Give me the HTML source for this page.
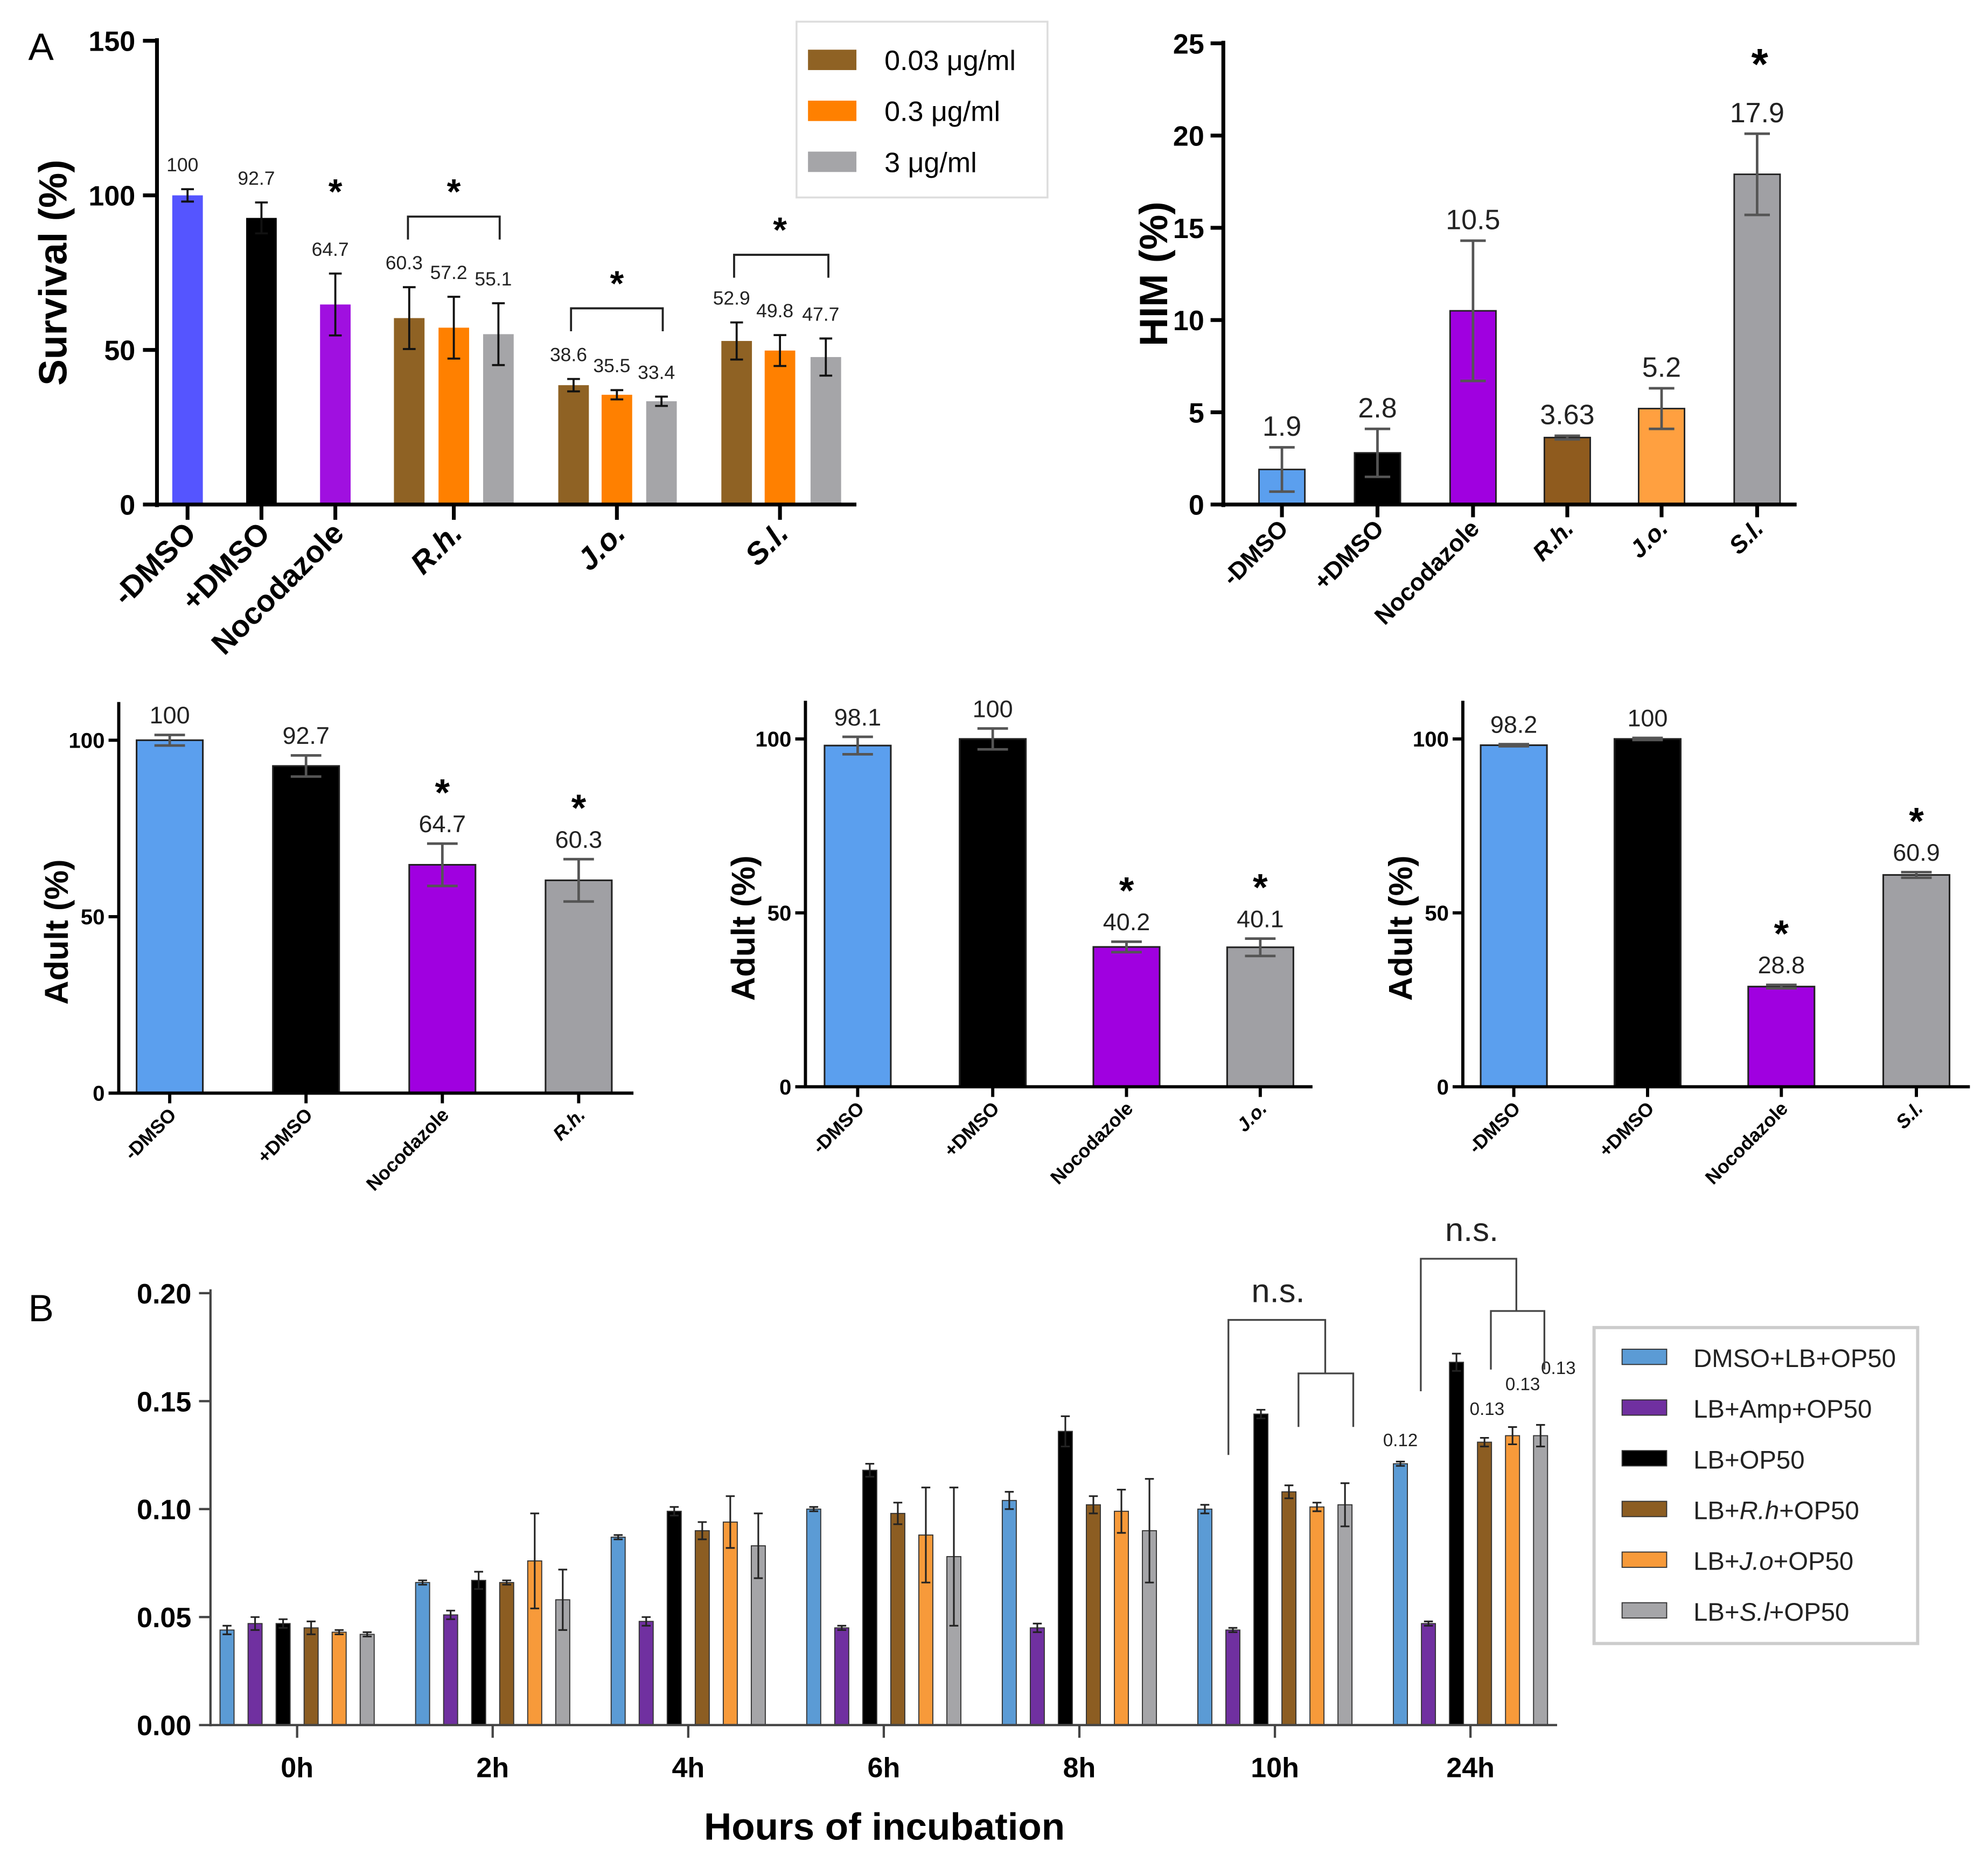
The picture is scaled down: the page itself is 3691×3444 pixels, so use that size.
<!DOCTYPE html>
<html><head><meta charset="utf-8"><style>
html,body{margin:0;padding:0;background:#fff}
svg{display:block;font-family:"Liberation Sans",Arial,sans-serif}
</style></head><body>
<svg id="fig" xmlns="http://www.w3.org/2000/svg" width="3691" height="3444" viewBox="0 0 1560 1456">
<rect width="1560" height="1456" fill="#fff"/>
<text x="22" y="47" font-size="30">A</text>
<text x="22" y="1037" font-size="30">B</text>
<g id="root"></g>
</svg>
<script>
// ---- Panel A1 survival ----
const survCats = ["-DMSO","+DMSO","Nocodazole","R.h.","J.o.","S.l."];
const survVals = [100,92.7,64.7,60.3,57.2,55.1,38.6,35.5,33.4,52.9,49.8,47.7];
const survErr = [2,5,10,10,10,10,2,1.5,1.5,6,5,6];
const survLabels = ["100","92.7","64.7","60.3","57.2","55.1","38.6","35.5","33.4","52.9","49.8","47.7"];
const survTicks = [0,50,100,150];
// ---- HIM ----
const himCats = ["-DMSO","+DMSO","Nocodazole","R.h.","J.o.","S.l."];
const himVals = [1.9,2.8,10.5,3.63,5.2,17.9];
const himErr = [1.2,1.3,3.8,0.1,1.1,2.2];
const himTicks = [0,5,10,15,20,25];
// ---- Adult panels ----
const adult1Cats = ["-DMSO","+DMSO","Nocodazole","R.h."];
const adult1Vals = [100,92.7,64.7,60.3];
const adult1Err = [1.5,3,6,6];
const adult2Cats = ["-DMSO","+DMSO","Nocodazole","J.o."];
const adult2Vals = [98.1,100,40.2,40.1];
const adult2Err = [2.5,3,1.5,2.5];
const adult3Cats = ["-DMSO","+DMSO","Nocodazole","S.l."];
const adult3Vals = [98.2,100,28.8,60.9];
const adult3Err = [0.3,0.3,0.5,0.8];
const adultTicks = [0,50,100];
// ---- Panel B ----
const hours = ["0h","2h","4h","6h","8h","10h","24h"];
const seriesNames = ["DMSO+LB+OP50","LB+Amp+OP50","LB+OP50","LB+R.h+OP50","LB+J.o+OP50","LB+S.l+OP50"];
const sDMSO = [0.044,0.066,0.087,0.100,0.104,0.100,0.121];
const sAmp = [0.047,0.051,0.048,0.045,0.045,0.044,0.047];
const sLB = [0.047,0.067,0.099,0.118,0.136,0.144,0.168];
const sRh = [0.045,0.066,0.090,0.098,0.102,0.108,0.131];
const sJo = [0.043,0.076,0.094,0.088,0.099,0.101,0.134];
const sSl = [0.042,0.058,0.083,0.078,0.090,0.102,0.134];
const eDMSO = [0.002,0.001,0.001,0.001,0.004,0.002,0.001];
const eAmp = [0.003,0.002,0.002,0.001,0.002,0.001,0.001];
const eLB = [0.002,0.004,0.002,0.003,0.007,0.002,0.004];
const eRh = [0.003,0.001,0.004,0.005,0.004,0.003,0.002];
const eJo = [0.001,0.022,0.012,0.022,0.010,0.002,0.004];
const eSl = [0.001,0.014,0.015,0.032,0.024,0.010,0.005];
const bTicks = [0,0.05,0.10,0.15,0.20];
const bTickLabels = ["0.00","0.05","0.10","0.15","0.20"];

const NS="http://www.w3.org/2000/svg";
const root=document.getElementById('root');
function mk(tag,attrs,parent,txt){const e=document.createElementNS(NS,tag);for(const k in attrs)e.setAttribute(k,attrs[k]);if(txt!==undefined)e.textContent=txt;(parent||root).appendChild(e);return e;}
function line(x1,y1,x2,y2,c,w,p){return mk('line',{x1,y1,x2,y2,stroke:c,'stroke-width':w},p);}

// ===== A1 =====
(function(){
 const g=mk('g',{});
 
 
 const y=v=>396-v*(396-32)/150;
 const xs=[147,205,263,321,356,391,450,484,519,578,612,648];
 const cols=["#5555ff","#000","#a010e0","#8f6224","#ff8000","#a5a5a8","#8f6224","#ff8000","#a5a5a8","#8f6224","#ff8000","#a5a5a8"];
 survVals.forEach((v,i)=>{
  const r=mk('rect',{x:xs[i]-12,y:y(v),width:24,height:y(0)-y(v),fill:cols[i]},g);
  
  
  line(xs[i],y(v-survErr[i]),xs[i],y(v+survErr[i]),'#111',1.6,g);
  line(xs[i]-5,y(v-survErr[i]),xs[i]+5,y(v-survErr[i]),'#111',1.6,g);
  line(xs[i]-5,y(v+survErr[i]),xs[i]+5,y(v+survErr[i]),'#111',1.6,g);
  const t=mk('text',{x:xs[i]-4,y:y(v+survErr[i])-14,'font-size':15,'text-anchor':'middle',fill:'#222'},g,survLabels[i]);
  
  
 });
 line(123,30,123,398,'#000',3,g);line(121,396,672,396,'#000',3,g);
 survTicks.forEach(t=>{line(112,y(t),123,y(t),'#000',3,g);
  const l=mk('text',{x:106,y:y(t)+8,'font-size':22,'font-weight':'bold','text-anchor':'end'},g,String(t));
  });
 const tx=[147,205,263,356,484,612];
 survCats.forEach((c,i)=>{line(tx[i],396,tx[i],408,'#000',3,g);
  const it=i>=3;
  const l=mk('text',{transform:`translate(${tx[i]+8},${420}) rotate(-45)`,'font-size':24,'font-weight':'bold','text-anchor':'end','font-style':it?'italic':'normal'},g,c);
  });
 const yt=mk('text',{transform:'translate(52,214) rotate(-90)','font-size':31,'font-weight':'bold','text-anchor':'middle'},g,'Survival (%)');
 
 [[263,160],[356,160],[484,232],[612,190]].forEach(([x,yy])=>{const s=mk('text',{x,y:yy,'font-size':28,'font-weight':'bold','text-anchor':'middle'},g,'*');});
 [[320,392,170],[448,520,242],[576,650,200]].forEach(([a,b,yy])=>{mk('path',{d:`M${a} ${yy+18}V${yy}H${b}V${yy+18}`,fill:'none',stroke:'#222','stroke-width':1.6},g);});
 const lg=mk('g',{},g);
 mk('rect',{x:625,y:17,width:197,height:138,fill:'#fff',stroke:'#ddd','stroke-width':1.5},lg);
 [["#8f6224","0.03 μg/ml"],["#ff8000","0.3 μg/ml"],["#a5a5a8","3 μg/ml"]].forEach(([c,t],i)=>{
  mk('rect',{x:634,y:39+i*40,width:38,height:16,fill:c},lg);
  const l=mk('text',{x:694,y:55+i*40,'font-size':22},lg,t);});
})();

// ===== HIM =====
(function(){
 const g=mk('g',{});
 
 
 const y=v=>396-v*(396-34)/25;
 const xs=[1006,1081,1156,1230,1304,1379];
 const cols=["#5b9fee","#000","#a000e0","#8f5b1e","#ffa040","#a0a0a4"];
 himVals.forEach((v,i)=>{
  const r=mk('rect',{x:xs[i]-18,y:y(v),width:36,height:y(0)-y(v),fill:cols[i],stroke:'#222','stroke-width':1.2},g);
  
  const e=himErr[i];
  line(xs[i],y(v-e),xs[i],y(v+e),'#555',2,g);line(xs[i]-10,y(v-e),xs[i]+10,y(v-e),'#555',2,g);line(xs[i]-10,y(v+e),xs[i]+10,y(v+e),'#555',2,g);
  const t=mk('text',{x:xs[i],y:y(v+e)-9,'font-size':22,'text-anchor':'middle',fill:'#222'},g,String(v));
  
 });
 line(960,32,960,398,'#000',3,g);line(958,396,1410,396,'#000',3,g);
 himTicks.forEach(t=>{line(950,y(t),960,y(t),'#000',3,g);
  const l=mk('text',{x:945,y:y(t)+8,'font-size':22,'font-weight':'bold','text-anchor':'end'},g,String(t));
  });
 himCats.forEach((c,i)=>{line(xs[i],396,xs[i],406,'#000',3,g);
  const l=mk('text',{transform:`translate(${xs[i]+6},${416}) rotate(-45)`,'font-size':19,'font-weight':'bold','text-anchor':'end','font-style':i>=3?'italic':'normal'},g,c);
  });
 const yt=mk('text',{transform:'translate(916,215) rotate(-90)','font-size':31,'font-weight':'bold','text-anchor':'middle'},g,'HIM (%)');
 
 const s=mk('text',{x:1381,y:62,'font-size':34,'font-weight':'bold','text-anchor':'middle'},g,'*');
})();

// ===== Adult panels =====
function adult(name,ax,y0,y100,xEnd,xs,cats,vals,errs,stars){
 const g=mk('g',{});
 
 
 const y=v=>y0-v*(y0-y100)/100;
 const cols=["#5b9fee","#000","#a000e0","#a0a0a4"];
 vals.forEach((v,i)=>{
  const r=mk('rect',{x:xs[i]-26,y:y(v),width:52,height:y0-y(v),fill:cols[i],stroke:'#222','stroke-width':1.3},g);
  
  const e=errs[i];
  line(xs[i],y(v-e),xs[i],y(v+e),'#555',2,g);line(xs[i]-12,y(v-e),xs[i]+12,y(v-e),'#555',2,g);line(xs[i]-12,y(v+e),xs[i]+12,y(v+e),'#555',2,g);
  const t=mk('text',{x:xs[i],y:y(v+e)-9,'font-size':19,'text-anchor':'middle',fill:'#222'},g,String(v));
  
  if(stars[i]){const s=mk('text',{x:xs[i],y:y(v+e)-30,'font-size':30,'font-weight':'bold','text-anchor':'middle'},g,'*');}
 });
 line(ax,y100-30,ax,y0+1,'#000',2.5,g);line(ax-1,y0,xEnd,y0,'#000',2.5,g);
 adultTicks.forEach(t=>{line(ax-8,y(t),ax,y(t),'#000',2.5,g);
  const l=mk('text',{x:ax-11,y:y(t)+6,'font-size':17,'font-weight':'bold','text-anchor':'end'},g,String(t));
  });
 cats.forEach((c,i)=>{line(xs[i],y0,xs[i],y0+8,'#000',2.5,g);
  const l=mk('text',{transform:`translate(${xs[i]+6},${y0+18}) rotate(-45)`,'font-size':15,'font-weight':'bold','text-anchor':'end','font-style':i==3?'italic':'normal'},g,c);
  });
 const yt=mk('text',{transform:`translate(${ax-40},${(y0+y100)/2+12}) rotate(-90)`,'font-size':26,'font-weight':'bold','text-anchor':'middle'},g,'Adult (%)');
 
}
adult('adult-chart-rh',93,858,581,497,[133,240,347,454],adult1Cats,adult1Vals,adult1Err,[0,0,1,1]);
adult('adult-chart-jo',632,853,580,1030,[673,779,884,989],adult2Cats,adult2Vals,adult2Err,[0,0,1,1]);
adult('adult-chart-sl',1148,853,580,1546,[1188,1293,1398,1504],adult3Cats,adult3Vals,adult3Err,[0,0,1,1]);

// ===== Panel B =====
(function(){
 const g=mk('g',{});
 
 
 const y=v=>1354-v*(1354-1015)/0.2;
 const gx=i=>233+i*153.5;
 const series=[sDMSO,sAmp,sLB,sRh,sJo,sSl];
 const errs=[eDMSO,eAmp,eLB,eRh,eJo,eSl];
 const cols=["#5b9bd5","#7030a0","#000","#8c5d22","#f79a3a","#a5a5a8"];
 series.forEach((s,k)=>s.forEach((v,i)=>{
  const cx=gx(i)+(k-2.5)*22;
  const r=mk('rect',{x:cx-5.5,y:y(v),width:11,height:1354-y(v),fill:cols[k],stroke:'#333','stroke-width':0.8},g);
  
  const e=errs[k][i];
  line(cx,y(v-e),cx,y(v+e),'#222',1.3,g);line(cx-3.5,y(v+e),cx+3.5,y(v+e),'#222',1.3,g);line(cx-3.5,y(v-e),cx+3.5,y(v-e),'#222',1.3,g);
 }));
 line(165,1012,165,1355,'#444',1.8,g);line(164,1354,1222,1354,'#444',1.8,g);
 bTicks.forEach((t,i)=>{line(156,y(t),165,y(t),'#444',1.8,g);
  const l=mk('text',{x:150,y:y(t)+8,'font-size':22,'font-weight':'bold','text-anchor':'end'},g,bTickLabels[i]);
  });
 hours.forEach((h,i)=>{line(gx(i),1354,gx(i),1364,'#444',1.8,g);
  const l=mk('text',{x:gx(i),y:1395,'font-size':22,'font-weight':'bold','text-anchor':'middle'},g,h);
  });
 const xt=mk('text',{x:694,y:1444,'font-size':30,'font-weight':'bold','text-anchor':'middle'},g,'Hours of incubation');
 
 [[0,"0.12"],[3,"0.13"],[4,"0.13"],[5,"0.13"]].forEach(([k,t],j)=>{
  const cx=gx(6)+(k-2.5)*22;const v=series[k][6]+errs[k][6];
  const l=mk('text',{x:cx+(j?-4+j*6:0),y:y(v)-12-(j>0?(j-1)*11:0)-(j?6:0),'font-size':14,'text-anchor':'middle',fill:'#222'},g,t);
  });
 const br=(a,b,yy,bot1,bot2)=>mk('path',{d:`M${a} ${bot1}V${yy}H${b}V${bot2}`,fill:'none',stroke:'#444','stroke-width':1.4},g);
 br(964,1040,1036,1142,1078);br(1019,1062,1078,1120,1120);
 br(1115,1190,988,1092,1029);br(1170,1212,1029,1075,1075);
 [[1003,1022],[1155,974]].forEach(([x,yy])=>{const l=mk('text',{x,y:yy,'font-size':26,'text-anchor':'middle',fill:'#222'},g,'n.s.');});
 const lg=mk('g',{},g);
 mk('rect',{x:1251,y:1042,width:254,height:248,fill:'#fff',stroke:'#ccc','stroke-width':2.5},lg);
 const parts=[["DMSO+LB+OP50"],["LB+Amp+OP50"],["LB+OP50"],["LB+","R.h","+OP50"],["LB+","J.o","+OP50"],["LB+","S.l","+OP50"]];
 parts.forEach((p,i)=>{
  mk('rect',{x:1273,y:1059+i*39.8,width:35,height:12,fill:cols[i],stroke:'#333','stroke-width':0.8},lg);
  const t=mk('text',{x:1329,y:1073+i*39.8,'font-size':20,fill:'#222'},lg);
  
  p.forEach((s,j)=>{const ts=mk('tspan',{},t,s);if(j==1)ts.setAttribute('font-style','italic');});
 });
})();
</script>
</body></html>
